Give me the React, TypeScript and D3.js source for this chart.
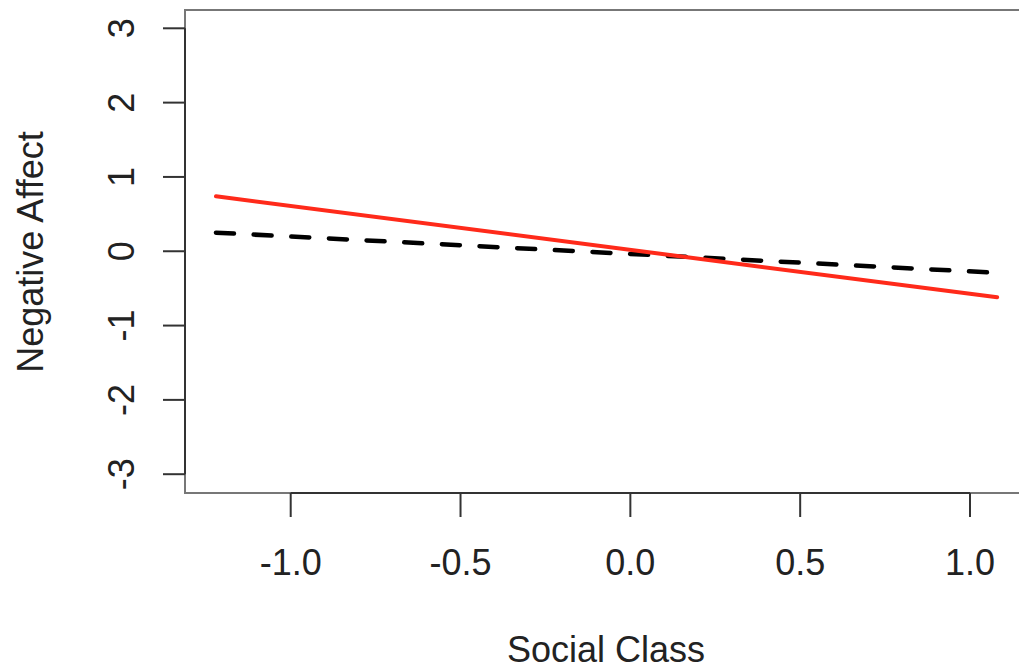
import React from 'react'
import * as d3 from 'd3'

// Endpoints of the two fitted lines
const xEnds = [-1.22, 1.08]
const redValues = [0.74, -0.62]
const blackValues = [0.25, -0.29]

const xTicks = [-1.0, -0.5, 0.0, 0.5, 1.0]
const yTicks = [-3, -2, -1, 0, 1, 2, 3]

const W = 1019
const H = 670

const App: React.FC = () => {
  // plot box (right edge runs past the visible page)
  const box = { left: 185, top: 10, right: 1028, bottom: 493 }

  const x = d3.scaleLinear().domain([-1, 1]).range([290.7, 970])
  const y = d3.scaleLinear().domain([-3, 3]).range([474.2, 28.3])

  const line = d3.line<[number, number]>()
    .x(d => x(d[0]))
    .y(d => y(d[1]))

  const redPts = xEnds.map((v, i) => [v, redValues[i]] as [number, number])
  const blackPts = xEnds.map((v, i) => [v, blackValues[i]] as [number, number])

  const font = '"Liberation Sans", Arial, sans-serif'
  const textColor = '#222'

  return (
    <svg
      width={W}
      height={H}
      style={{ position: 'absolute', left: 0, top: 0, background: '#fff' }}
      fontFamily={font}
    >
      {/* box */}
      <rect
        x={box.left}
        y={box.top}
        width={box.right - box.left}
        height={box.bottom - box.top}
        fill="none"
        stroke="#777"
        strokeWidth={2}
      />

      {/* x axis */}
      <line x1={x(-1)} x2={x(1)} y1={box.bottom} y2={box.bottom} stroke="#333" strokeWidth={2} />
      {xTicks.map(t => (
        <g key={t}>
          <line x1={x(t)} x2={x(t)} y1={box.bottom} y2={box.bottom + 24} stroke="#333" strokeWidth={2} />
          <text x={x(t)} y={575} textAnchor="middle" fontSize={36} fill={textColor}>
            {t.toFixed(1)}
          </text>
        </g>
      ))}

      {/* y axis */}
      <line x1={box.left} x2={box.left} y1={y(-3)} y2={y(3)} stroke="#333" strokeWidth={2} />
      {yTicks.map(t => (
        <g key={t}>
          <line x1={box.left - 22} x2={box.left} y1={y(t)} y2={y(t)} stroke="#333" strokeWidth={2} />
          <text
            transform={`translate(134,${y(t)}) rotate(-90)`}
            textAnchor="middle"
            fontSize={36}
            fill={textColor}
          >
            {t}
          </text>
        </g>
      ))}

      {/* lines */}
      <path d={line(blackPts) || ''} fill="none" stroke="#000" strokeWidth={4.5}
        strokeDasharray="18 19.7" strokeLinecap="round" />
      <path d={line(redPts) || ''} fill="none" stroke="#ff2a1a" strokeWidth={4}
        strokeLinecap="round" />

      {/* axis titles */}
      <text x={606} y={662} textAnchor="middle" fontSize={36} fill={textColor}>
        Social Class
      </text>
      <text
        transform={`translate(43,252) rotate(-90)`}
        textAnchor="middle"
        fontSize={36}
        fill={textColor}
      >
        Negative Affect
      </text>
    </svg>
  )
}

export default App
